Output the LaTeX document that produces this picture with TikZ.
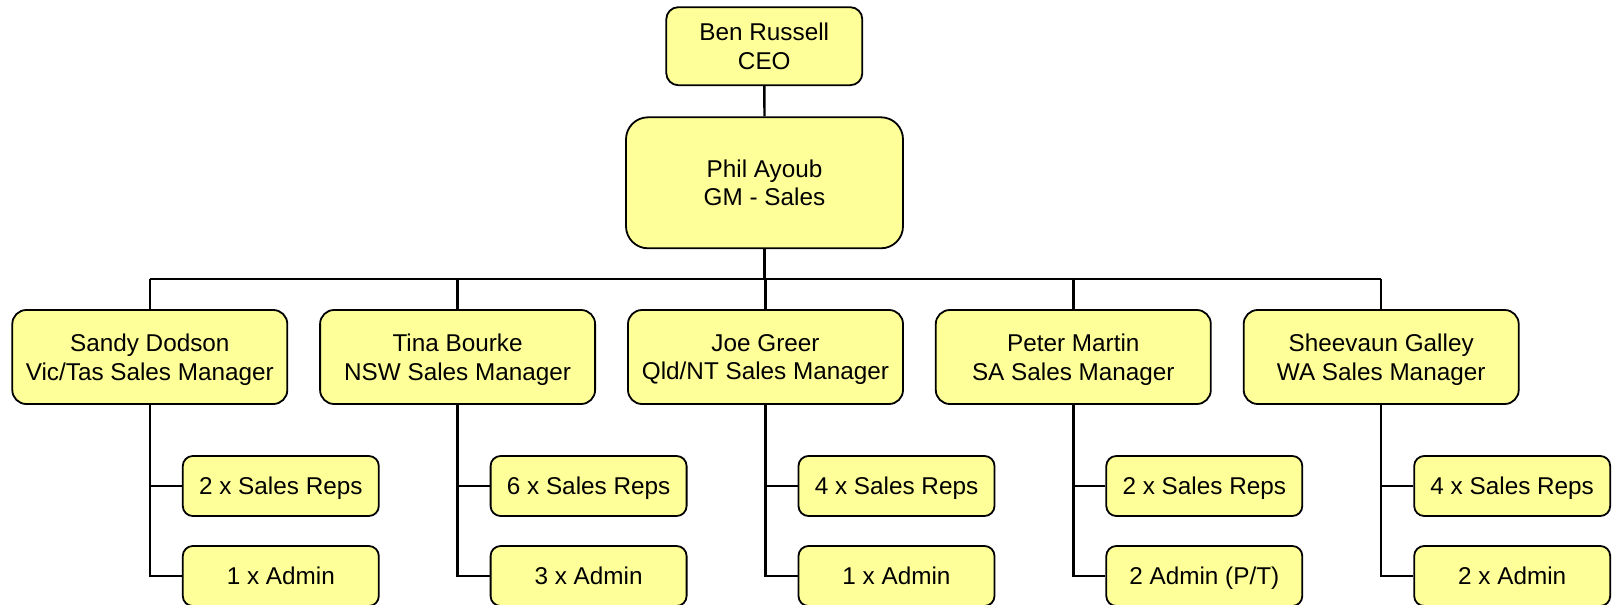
\documentclass[tikz,border=0pt]{standalone}
\usepackage{fontspec}
\setmainfont{Liberation Sans}
\definecolor{boxfill}{HTML}{FFFF99}
\begin{document}
\begin{tikzpicture}[x=1pt,y=-1pt,
  box/.style={draw=black, line width=1.8pt, fill=boxfill, rounded corners=#1, align=center,
    inner sep=0pt, text depth=0pt, font=\fontsize{24.3}{28.7}\selectfont},
  box/.default=14pt,
  link/.style={draw=black, line width=2.4pt}]
\useasboundingbox (0,0) rectangle (1615,605);
\node[box=12pt, minimum width=196pt, minimum height=78pt] (ceo) at (764.3,46.2) {Ben Russell\\CEO};
\node[box=22pt, minimum width=277pt, minimum height=131pt] (gm) at (764.5,182.8) {Phil Ayoub\\GM - Sales};
\coordinate (bus) at (764.5,279);
\foreach \i/\x/\name/\role/\r/\a in {
  1/149.8/Sandy Dodson/Vic\slash Tas Sales Manager/2 x Sales Reps/1 x Admin,
  2/457.6/Tina Bourke/NSW Sales Manager/6 x Sales Reps/3 x Admin,
  3/765.5/Joe Greer/Qld\slash NT Sales Manager/4 x Sales Reps/1 x Admin,
  4/1073.3/Peter Martin/SA Sales Manager/2 x Sales Reps/{2 Admin (P\slash T)},
  5/1381.2/Sheevaun Galley/WA Sales Manager/4 x Sales Reps/2 x Admin}{
  \node[box, minimum width=275pt, minimum height=94pt] (m\i) at (\x,357) {\name\\\role};
  \node[box=10pt, minimum width=196pt, minimum height=60pt] (r\i) at (\x+131,486) {\r};
  \node[box=10pt, minimum width=196pt, minimum height=60pt] (a\i) at (\x+131,576) {\a};
}
\draw[link] (ceo.south) -- (gm.north);
\draw[link] (gm.south) -- (bus);
\draw[link] (m1.north |- bus) -- (m5.north |- bus);
\foreach \i in {1,...,5}{
  \draw[link] (m\i.north) -- (m\i.north |- bus);
  \draw[link] (m\i.south) |- (a\i.west);
  \draw[link] (m\i.south |- r\i.west) -- (r\i.west);
}
\end{tikzpicture}
\end{document}
